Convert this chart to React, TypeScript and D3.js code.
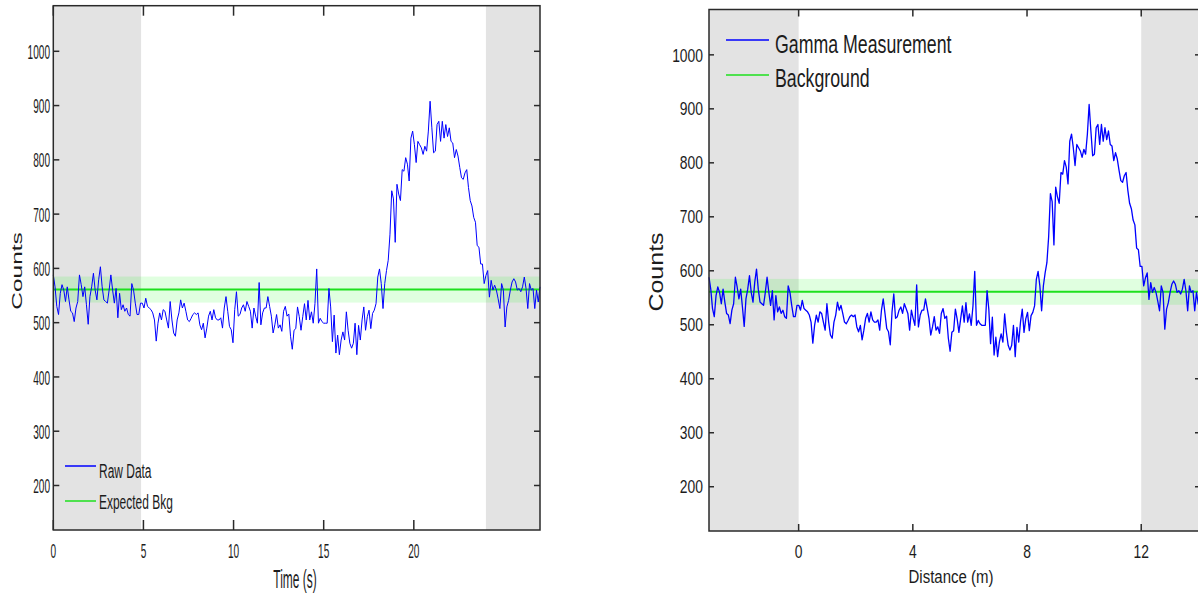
import React from 'react';
import { scaleLinear, line } from 'd3';

// gamma counts, one sample about every 0.1 s
const countsLeadIn = [
  588, 566, 530, 515, 554, 570, 560, 539, 566, 542,
  521, 518, 502, 527, 539, 588, 570, 548, 566, 533,
  497, 548, 566, 591, 560, 542, 579, 603, 566, 542,
  539, 536, 560, 588, 560, 536, 563, 509, 554, 524,
  533, 521, 527, 515, 512, 572, 560, 536, 515, 515,
  536, 536, 527, 545, 530, 527, 524, 518, 505, 466,
  499, 518, 505, 524, 521, 505, 490,
];
const countsApproach = [
  539, 505, 481, 475, 505, 518, 542, 527, 536, 521,
  505, 502, 508, 515, 518, 515, 518, 496, 487, 499, 472,
  490, 512, 521, 505, 524, 509, 505, 505, 509, 490,
  527, 548, 521, 493, 487, 463, 524, 557, 512, 515,
  527, 533, 521, 539, 530, 521, 490, 527, 512, 499,
  574, 496, 518, 527, 527, 548, 530, 512, 481, 496,
  515, 490, 496, 484, 521, 530, 512, 516, 475, 451,
];
const countsRise = [
  486, 489, 529, 511, 486, 511, 535, 505, 541, 505,
  520, 499, 535, 599, 499, 508, 502, 499, 499, 499,
  563, 529, 465, 514, 444, 477, 441, 468, 483, 468,
  520, 486, 462, 453, 462, 499, 441, 495, 468, 505,
  529, 486, 511, 523, 489, 517, 523, 535, 584, 599,
  572, 526, 572, 596, 615, 663, 743, 728, 648, 755,
  737, 725, 782, 779, 804, 792, 761, 840, 853, 828,
];
const countsPeakTail = [
  795, 834, 828, 822, 810, 825, 816, 853, 908, 859,
  813, 816, 865, 871, 834, 871, 840, 865, 843, 859,
  834, 831, 804, 819, 807, 786, 767, 764, 776, 782,
  749, 725, 715, 694, 685, 642, 639, 608, 608, 572,
  587, 596, 547, 578, 560, 569, 560, 544, 526,
  572, 560, 492, 529, 541, 560, 575, 581, 575,
  560, 563, 557, 566, 584, 563, 526, 572, 560,
  563, 526, 560, 538, 566,
];

const counts = [...countsLeadIn, ...countsApproach, ...countsRise, ...countsPeakTail];
const DURATION = 27; // s
const DIST_START = -3.14; // m at t = 0
const SPEED = 0.637; // m/s

const BKG_MEAN = 561;
const BKG_BAND = 24;

const timeTicks = [0, 5, 10, 15, 20];
const distTicks = [0, 4, 8, 12];
const countTicks = [200, 300, 400, 500, 600, 700, 800, 900, 1000];
const countExtent = [118, 1084];

const timeShade = [[0, 4.87], [24.0, 27]];
const distShade = [[DIST_START, 0], [12, DIST_START + SPEED * DURATION]];

const points = counts.map((c, i) => ({ t: (i * DURATION) / (counts.length - 1), c }));

const FONT = '"Liberation Sans", Arial, Helvetica, sans-serif';
const INK = '#1c1c1c';

const Txt = ({ x, y, size, sx, anchor = 'start', rotate = false, children }) => (
  <g transform={`translate(${x},${y})${rotate ? ' rotate(-90) scale(1,' + sx + ')' : ' scale(' + sx + ',1)'}`}>
    <text fontSize={size} textAnchor={anchor} fill={INK} fontFamily={FONT}>{children}</text>
  </g>
);

const Panel = ({ cfg }) => {
  const x = scaleLinear().domain(cfg.xDomain).range(cfg.xRange);
  const y = scaleLinear().domain(countExtent).range(cfg.yRange);
  const [x0, x1] = cfg.xRange;
  const [yb, yt] = cfg.yRange;
  const path = line()
    .x(d => x(cfg.toX(d.t)))
    .y(d => y(d.c))(points);

  return (
    <g>
      <rect x={x0} y={yt} width={x1 - x0} height={yb - yt} fill="#fff" />
      {cfg.shade.map(([a, b], i) => (
        <rect key={i} x={x(a)} y={yt} width={x(b) - x(a)} height={yb - yt} fill="#e3e3e3" />
      ))}
      <rect x={x0} y={y(BKG_MEAN + BKG_BAND)} width={x1 - x0}
        height={y(BKG_MEAN - BKG_BAND) - y(BKG_MEAN + BKG_BAND)} fill="#00ff00" fillOpacity={0.12} />
      <line x1={x0} x2={x1} y1={y(BKG_MEAN)} y2={y(BKG_MEAN)} stroke="#1ee01e" strokeWidth={2} />
      <path d={path} fill="none" stroke="#0000ff" strokeWidth={cfg.lineW} strokeLinejoin="round" />

      {/* box and ticks */}
      <rect x={x0} y={yt} width={x1 - x0} height={yb - yt} fill="none" stroke="#2a2a2a" strokeWidth={1.5} />
      {cfg.xTicks.map(v => (
        <g key={v}>
          <line x1={x(v)} x2={x(v)} y1={yb} y2={yb - cfg.xTickLen} stroke="#2a2a2a" strokeWidth={1.5} />
          <line x1={x(v)} x2={x(v)} y1={yt} y2={yt + cfg.xTickLen} stroke="#2a2a2a" strokeWidth={1.5} />
          <Txt x={x(v)} y={cfg.xTickBase} size={cfg.tickSize} sx={cfg.tickSx} anchor="middle">{v}</Txt>
        </g>
      ))}
      {countTicks.map(v => (
        <g key={v}>
          <line x1={x0} x2={x0 + cfg.yTickLen} y1={y(v)} y2={y(v)} stroke="#2a2a2a" strokeWidth={1.5} />
          <line x1={x1} x2={x1 - cfg.yTickLen} y1={y(v)} y2={y(v)} stroke="#2a2a2a" strokeWidth={1.5} />
          <Txt x={cfg.yLabelRight} y={y(v) + cfg.tickSize * 0.36} size={cfg.tickSize} sx={cfg.tickSx} anchor="end">{v}</Txt>
        </g>
      ))}

      <Txt x={cfg.xTitle[0]} y={cfg.xTitle[1]} size={cfg.xTitle[2]} sx={cfg.xTitle[3]} anchor="middle">{cfg.xTitleText}</Txt>
      <Txt x={cfg.yTitle[0]} y={cfg.yTitle[1]} size={cfg.yTitle[2]} sx={cfg.yTitle[3]} anchor="middle" rotate>Counts</Txt>

      {/* legend */}
      {cfg.legend.items.map((it, i) => {
        const L = cfg.legend;
        return (
          <g key={it.label}>
            <line x1={L.x0} x2={L.x1} y1={L.lineY[i]} y2={L.lineY[i]} stroke={it.color} strokeWidth={1.5} />
            <Txt x={L.textX} y={L.base[i]} size={L.size} sx={L.sx}>{it.label}</Txt>
          </g>
        );
      })}
    </g>
  );
};

const leftCfg = {
  xDomain: [0, DURATION],
  xRange: [53.3, 540],
  yRange: [530, 5.7],
  toX: t => t,
  shade: timeShade,
  xTicks: timeTicks,
  lineW: 1,
  xTickLen: 10,
  yTickLen: 6,
  tickSize: 21,
  tickSx: 0.48,
  xTickBase: 558,
  yLabelRight: 50,
  xTitleText: 'Time (s)',
  xTitle: [295, 588, 26, 0.46],
  yTitle: [22, 271, 24.5, 0.57],
  legend: {
    x0: 65, x1: 96, textX: 99, lineY: [466, 501], base: [478, 509], size: 21, sx: 0.57,
    items: [{ label: 'Raw Data', color: '#0000ff' }, { label: 'Expected Bkg', color: '#1ee01e' }],
  },
};

const rightCfg = {
  xDomain: [DIST_START, DIST_START + SPEED * DURATION],
  xRange: [709, 1200],
  yRange: [531, 9.5],
  toX: t => DIST_START + SPEED * t,
  shade: distShade,
  xTicks: distTicks,
  lineW: 1.3,
  xTickLen: 7,
  yTickLen: 5,
  tickSize: 18.5,
  tickSx: 0.75,
  xTickBase: 558,
  yLabelRight: 703,
  xTitleText: 'Distance (m)',
  xTitle: [951, 583, 18.5, 0.81],
  yTitle: [663, 272, 25, 0.82],
  legend: {
    x0: 726, x1: 769, textX: 775, lineY: [40, 75], base: [53, 87], size: 25, sx: 0.71,
    items: [{ label: 'Gamma Measurement', color: '#0000ff' }, { label: 'Background', color: '#1ee01e' }],
  },
};

export default function App() {
  return (
    <svg width={1198} height={599} style={{ position: 'absolute', left: 0, top: 0, display: 'block', background: '#fff' }}>
      <rect width={1198} height={599} fill="#fff" />
      <Panel cfg={leftCfg} />
      <Panel cfg={rightCfg} />
    </svg>
  );
}
